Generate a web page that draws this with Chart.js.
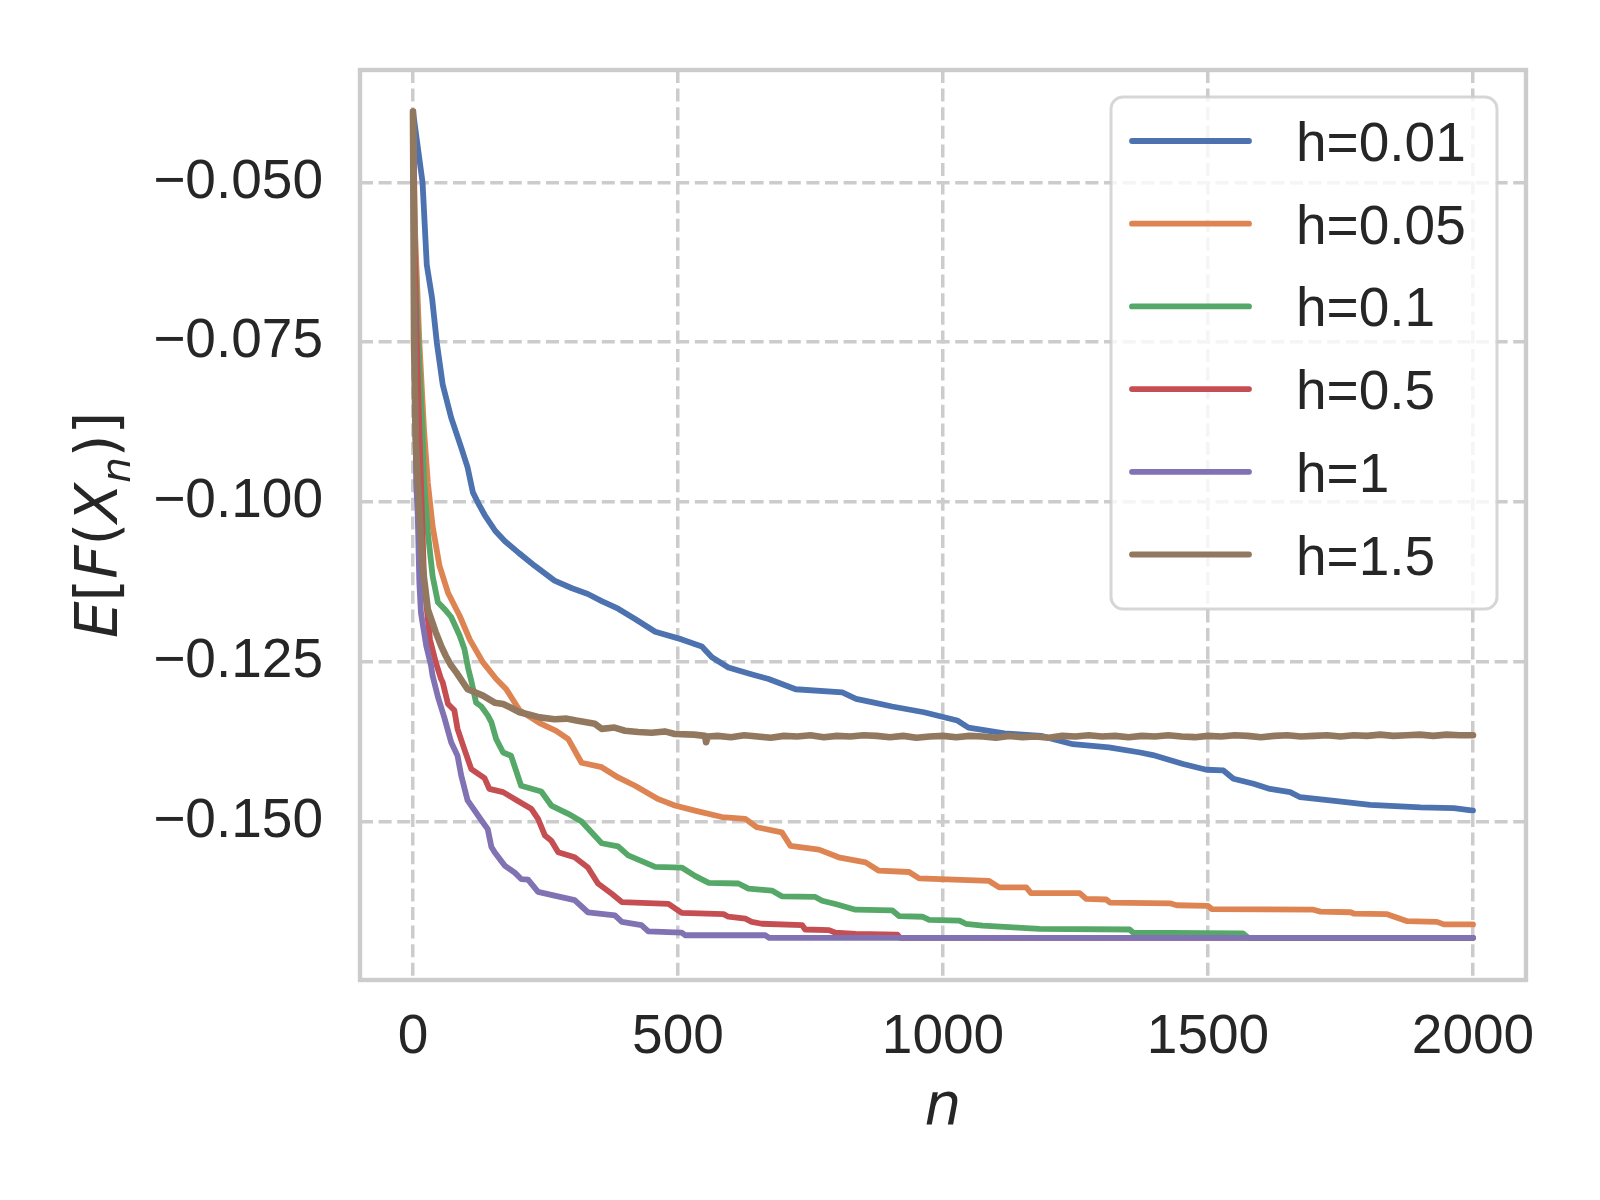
<!DOCTYPE html>
<html>
<head>
<meta charset="utf-8">
<script src="https://cdn.jsdelivr.net/npm/chart.js@4.4.1/dist/chart.umd.min.js"></script>
<style>
  html, body { margin: 0; padding: 0; background: #fff; }
  #wrap { width: 1600px; height: 1200px; }
</style>
</head>
<body>
<div id="wrap"><canvas id="chart" width="1600" height="1200"></canvas></div>
<script>
// tick labels
const xTicks = [0, 500, 1000, 1500, 2000];
const yTicks = [-0.150, -0.125, -0.100, -0.075, -0.050];

const seriesLabels = ['h=0.01', 'h=0.05', 'h=0.1', 'h=0.5', 'h=1', 'h=1.5'];

// h=0.01
const h001N = [0, 18, 26, 36, 45, 56, 72, 91, 103, 113, 125, 135, 155, 173, 200, 230, 267, 300, 330, 356,
  387, 419, 457, 507, 545, 564, 595, 640, 671, 722, 810, 836, 870, 904, 964, 1027, 1048, 1116, 1185, 1245,
  1313, 1372, 1396, 1453, 1497, 1529, 1548, 1586, 1617, 1655, 1674, 1743, 1806, 1901, 1964, 2000];
const h001E = [-0.0389, -0.0500, -0.0629, -0.0681, -0.0751, -0.0816, -0.0868, -0.0915, -0.0946, -0.0985,
  -0.1005, -0.1020, -0.1045, -0.1061, -0.1080, -0.1100, -0.1123, -0.1135, -0.1144, -0.1155,
  -0.1167, -0.1183, -0.1203, -0.1215, -0.1226, -0.1243, -0.1259, -0.1270, -0.1277, -0.1293,
  -0.1298, -0.1308, -0.1314, -0.1320, -0.1329, -0.1342, -0.1353, -0.1362, -0.1366, -0.1379,
  -0.1384, -0.1392, -0.1396, -0.1410, -0.1419, -0.1420, -0.1433, -0.1441, -0.1449, -0.1454,
  -0.1462, -0.1468, -0.1474, -0.1478, -0.1479, -0.1483];

// h=0.05
const h005N = [0, 4, 12, 21, 28, 37, 50, 66, 88, 107, 132, 157, 176, 201, 239, 270, 293, 318, 356, 387,
  419, 463, 494, 532, 583, 627, 649, 696, 712, 766, 803, 854, 879, 936, 955, 1087, 1106, 1157, 1166, 1258,
  1270, 1308, 1315, 1428, 1441, 1500, 1507, 1699, 1712, 1769, 1775, 1838, 1876, 1932, 1945, 2000];
const h005E = [-0.0389, -0.0580, -0.0750, -0.0890, -0.0970, -0.1038, -0.1100, -0.1142, -0.1178, -0.1215,
  -0.1251, -0.1277, -0.1293, -0.1326, -0.1346, -0.1358, -0.1371, -0.1408, -0.1415, -0.1431,
  -0.1444, -0.1465, -0.1475, -0.1483, -0.1493, -0.1496, -0.1509, -0.1517, -0.1538, -0.1544,
  -0.1556, -0.1564, -0.1577, -0.1579, -0.1589, -0.1593, -0.1603, -0.1603, -0.1612, -0.1612,
  -0.1621, -0.1622, -0.1627, -0.1628, -0.1631, -0.1632, -0.1637, -0.1638, -0.1641, -0.1642,
  -0.1644, -0.1645, -0.1656, -0.1657, -0.1661, -0.1661];

// h=0.1
const h01N = [0, 4, 10, 18, 21, 28, 37, 47, 60, 72, 88, 97, 104, 110, 119, 129, 141, 148, 157, 170,
  185, 204, 242, 261, 293, 318, 356, 387, 406, 457, 507, 532, 558, 614, 633, 677, 696, 759, 772, 797,
  835, 904, 917, 961, 974, 1031, 1043, 1075, 1182, 1352, 1359, 1566, 1576, 2000];
const h01E = [-0.0389, -0.0620, -0.0750, -0.0890, -0.0970, -0.1048, -0.1116, -0.1157, -0.1168, -0.1180,
  -0.1209, -0.1230, -0.1260, -0.1280, -0.1314, -0.1320, -0.1334, -0.1345, -0.1371, -0.1392,
  -0.1397, -0.1444, -0.1453, -0.1475, -0.1488, -0.1500, -0.1534, -0.1539, -0.1553, -0.1571,
  -0.1572, -0.1585, -0.1596, -0.1597, -0.1605, -0.1608, -0.1617, -0.1618, -0.1624, -0.1629,
  -0.1638, -0.1639, -0.1648, -0.1649, -0.1654, -0.1655, -0.1660, -0.1663, -0.1668, -0.1669,
  -0.1674, -0.1675, -0.1682, -0.1682];

// h=0.5
const h05N = [0, 3, 7, 15, 21, 32, 43, 53, 56, 66, 78, 84, 97, 110, 135, 144, 170, 198, 223, 236,
  249, 261, 274, 305, 330, 349, 375, 394, 482, 507, 586, 595, 627, 639, 658, 734, 740, 785, 797, 835,
  914, 919, 2000];
const h05E = [-0.0389, -0.0600, -0.0750, -0.0970, -0.1126, -0.1215, -0.1251, -0.1277, -0.1282, -0.1316,
  -0.1326, -0.1355, -0.1387, -0.1418, -0.1432, -0.1449, -0.1454, -0.1468, -0.1480, -0.1496,
  -0.1522, -0.1530, -0.1548, -0.1556, -0.1572, -0.1597, -0.1613, -0.1626, -0.1629, -0.1643,
  -0.1645, -0.1649, -0.1652, -0.1657, -0.1660, -0.1662, -0.1669, -0.1670, -0.1674, -0.1676,
  -0.1677, -0.1682, -0.1682];

// h=1
const h1N = [0, 3, 6, 9, 12, 15, 18, 25, 34, 37, 47, 59, 72, 84, 91, 103, 129, 141, 148, 154,
  173, 192, 204, 217, 236, 267, 305, 330, 381, 394, 431, 444, 507, 514, 665, 672, 2000];
const h1E = [-0.0389, -0.0750, -0.0970, -0.1022, -0.1126, -0.1173, -0.1189, -0.1225, -0.1256, -0.1272,
  -0.1305, -0.1337, -0.1376, -0.1397, -0.1428, -0.1467, -0.1498, -0.1512, -0.1540, -0.1548,
  -0.1569, -0.1580, -0.1590, -0.1591, -0.1610, -0.1616, -0.1623, -0.1642, -0.1647, -0.1657,
  -0.1662, -0.1672, -0.1674, -0.1678, -0.1678, -0.1682, -0.1682];

// h=1.5
const h15N = [0, 2, 5, 9, 18, 28, 43, 53, 62, 72, 82, 103, 118, 132, 154, 170, 185, 201, 220, 239,
  267, 290, 308, 343, 356, 380, 400, 425, 450, 475, 494, 530, 551, 553, 556, 575, 600, 625, 650, 675,
  700, 725, 750, 775, 800, 825, 850, 875, 900, 925, 950, 975, 1000, 1025, 1050, 1075, 1100, 1125, 1150, 1175,
  1200, 1225, 1250, 1275, 1300, 1325, 1350, 1375, 1400, 1425, 1450, 1475, 1500, 1525, 1550, 1575, 1600, 1625, 1650, 1675,
  1700, 1725, 1750, 1775, 1800, 1825, 1850, 1875, 1900, 1925, 1950, 1975, 2000];
const h15E = [-0.0389, -0.0750, -0.0900, -0.0970, -0.1100, -0.1168, -0.1204, -0.1225, -0.1241, -0.1256,
  -0.1267, -0.1293, -0.1298, -0.1303, -0.1314, -0.1316, -0.1322, -0.1329, -0.1333, -0.1337,
  -0.1340, -0.1339, -0.1342, -0.1347, -0.1355, -0.1353, -0.1358, -0.1360, -0.1361, -0.1359,
  -0.1363, -0.1364, -0.1366, -0.1376, -0.1367, -0.1366, -0.1368, -0.1365, -0.1367, -0.1369,
  -0.1366, -0.1367, -0.1365, -0.1368, -0.1366, -0.1367, -0.1365, -0.1366, -0.1368, -0.1366,
  -0.1369, -0.1367, -0.1366, -0.1368, -0.1366, -0.1367, -0.1369, -0.1366, -0.1368, -0.1367,
  -0.1369, -0.1366, -0.1367, -0.1365, -0.1367, -0.1366, -0.1368, -0.1366, -0.1367, -0.1365,
  -0.1367, -0.1368, -0.1366, -0.1367, -0.1365, -0.1366, -0.1368, -0.1366, -0.1365, -0.1367,
  -0.1366, -0.1365, -0.1367, -0.1365, -0.1366, -0.1364, -0.1366, -0.1365, -0.1364, -0.1366,
  -0.1364, -0.1365, -0.1365];

const seriesN = [h001N, h005N, h01N, h05N, h1N, h15N];
const seriesE = [h001E, h005E, h01E, h05E, h1E, h15E];

// seaborn "deep" palette
const palette = ['#4C72B0', '#DD8452', '#55A868', '#C44E52', '#8172B3', '#937860'];
const textColor = '#262626';

const datasets = seriesLabels.map((label, i) => ({
  label: label,
  data: seriesN[i].map((n, k) => ({ x: n, y: seriesE[i][k] })),
  borderColor: palette[i],
  borderWidth: i === 5 ? 6.6 : 5.8,
  borderCapStyle: 'round',
  borderJoinStyle: 'round',
  pointRadius: 0,
  tension: 0,
  fill: false,
  order: seriesLabels.length - i   // later series drawn on top, like matplotlib
}));

function roundRect(ctx, x, y, w, h, r) {
  ctx.beginPath();
  ctx.moveTo(x + r, y);
  ctx.lineTo(x + w - r, y);
  ctx.arcTo(x + w, y, x + w, y + r, r);
  ctx.lineTo(x + w, y + h - r);
  ctx.arcTo(x + w, y + h, x + w - r, y + h, r);
  ctx.lineTo(x + r, y + h);
  ctx.arcTo(x, y + h, x, y + h - r, r);
  ctx.lineTo(x, y + r);
  ctx.arcTo(x, y, x + r, y, r);
  ctx.closePath();
}

// frame, axis titles and the legend inside the plot
const decorations = {
  id: 'decorations',
  afterDraw(chart) {
    const ctx = chart.ctx;
    const a = chart.chartArea;
    ctx.save();

    // spines
    ctx.strokeStyle = '#cccccc';
    ctx.lineWidth = 4.4;
    ctx.strokeRect(a.left, a.top, a.right - a.left, a.bottom - a.top);

    // x title
    ctx.fillStyle = textColor;
    ctx.font = 'oblique 58px "DejaVu Sans"';
    ctx.textAlign = 'center';
    ctx.textBaseline = 'alphabetic';
    ctx.fillText('n', (a.left + a.right) / 2, 1124);

    // y title E[F(X_n)]
    const fs = 58;
    const parts = [
      { t: 'E', it: true, sub: false },
      { t: '[', it: false, sub: false },
      { t: 'F', it: true, sub: false },
      { t: '(', it: false, sub: false },
      { t: 'X', it: true, sub: false },
      { t: 'n', it: true, sub: true },
      { t: ')', it: false, sub: false },
      { t: ']', it: false, sub: false }
    ];
    const fontOf = p => (p.it ? 'oblique ' : '') + (p.sub ? Math.round(fs * 0.7) : fs) + 'px "DejaVu Sans"';
    let total = 0;
    parts.forEach(p => { ctx.font = fontOf(p); p.w = ctx.measureText(p.t).width; total += p.w; });
    ctx.translate(117, (a.top + a.bottom) / 2);
    ctx.rotate(-Math.PI / 2);
    ctx.textAlign = 'left';
    let cx = -total / 2;
    parts.forEach(p => {
      ctx.font = fontOf(p);
      ctx.fillText(p.t, cx, p.sub ? fs * 0.22 : 0);
      cx += p.w;
    });
    ctx.setTransform(1, 0, 0, 1, 0, 0);

    // legend
    roundRect(ctx, 1111, 97, 386, 512, 12);
    ctx.fillStyle = 'rgba(255,255,255,0.8)';
    ctx.fill();
    ctx.lineWidth = 3;
    ctx.strokeStyle = 'rgba(204,204,204,0.8)';
    ctx.stroke();
    ctx.font = '55px "Liberation Sans"';
    ctx.textAlign = 'left';
    ctx.textBaseline = 'alphabetic';
    chart.data.datasets.forEach((ds, i) => {
      const y = 141 + i * 82.7;
      ctx.beginPath();
      ctx.strokeStyle = ds.borderColor;
      ctx.lineWidth = 5.8;
      ctx.lineCap = 'round';
      ctx.moveTo(1132, y);
      ctx.lineTo(1249, y);
      ctx.stroke();
      ctx.fillStyle = textColor;
      ctx.fillText(ds.label, 1296, y + 20);
    });
    ctx.restore();
  }
};

const gridStyle = { color: '#cccccc', lineWidth: 3.5, drawTicks: false, tickLength: 0 };
const borderStyle = { display: false, dash: [13, 5.6] };
const tickFont = { family: '"Liberation Sans"', size: 55 };

new Chart(document.getElementById('chart').getContext('2d'), {
  type: 'line',
  data: { datasets: datasets },
  options: {
    responsive: false,
    devicePixelRatio: 1,
    animation: false,
    layout: { padding: { left: 0, top: 67, right: 74, bottom: 0 } },
    plugins: {
      legend: { display: false },
      tooltip: { enabled: false }
    },
    scales: {
      x: {
        type: 'linear',
        min: -100,
        max: 2100,
        grid: gridStyle,
        border: borderStyle,
        afterBuildTicks: s => { s.ticks = xTicks.map(v => ({ value: v })); },
        afterFit: s => { s.height = 220; },
        ticks: {
          font: tickFont,
          color: textColor,
          padding: 25,
          maxRotation: 0,
          callback: v => String(v)
        }
      },
      y: {
        type: 'linear',
        min: -0.1748,
        max: -0.0324,
        grid: gridStyle,
        border: borderStyle,
        afterBuildTicks: s => { s.ticks = yTicks.map(v => ({ value: v })); },
        afterFit: s => { s.width = 360; },
        ticks: {
          font: tickFont,
          color: textColor,
          padding: 37,
          callback: v => v.toFixed(3).replace('-', '\u2212')
        }
      }
    }
  },
  plugins: [decorations]
});
</script>
</body>
</html>
